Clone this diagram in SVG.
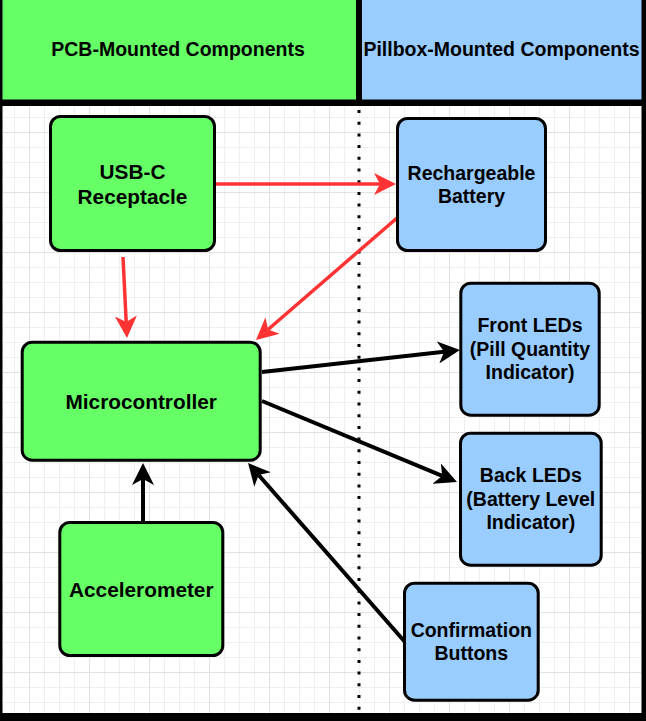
<svg xmlns="http://www.w3.org/2000/svg" width="646" height="721" viewBox="0 0 646 721">
<style>
.g{fill:#66FF66;stroke:#000;stroke-width:3}
.b{fill:#99CCFF;stroke:#000;stroke-width:3}
text{font-family:"Liberation Sans",Arial,sans-serif;font-weight:bold;fill:#000;text-anchor:middle}
.tg{font-size:20.8px}
.tb{font-size:19.5px}
.th{font-size:19.5px}
.red{stroke:#FF3333;stroke-width:3.5;fill:none}
.blk{stroke:#000;stroke-width:4;fill:none}
</style>
<defs>
<pattern id="minor" patternUnits="userSpaceOnUse" x="14" y="12" width="15" height="15">
<rect x="0" y="0" width="1" height="15" fill="#efefef"/>
<rect x="0" y="0" width="15" height="1" fill="#efefef"/>
</pattern>
<pattern id="major" patternUnits="userSpaceOnUse" x="29" y="12" width="60" height="60">
<rect x="0" y="0" width="1" height="60" fill="#e2e2e2"/>
<rect x="0" y="0" width="60" height="1" fill="#e2e2e2"/>
</pattern>
<marker id="ar" viewBox="0 0 22 22" refX="6" refY="11" markerWidth="22" markerHeight="22" markerUnits="userSpaceOnUse" orient="auto">
<path d="M22,11 L0,0 L6,11 L0,22 Z" fill="#FF3333"/>
</marker>
<marker id="ab" viewBox="0 0 22 22" refX="6" refY="11" markerWidth="22" markerHeight="22" markerUnits="userSpaceOnUse" orient="auto">
<path d="M22,11 L0,0 L6,11 L0,22 Z" fill="#000"/>
</marker>
</defs>
<g id="background">
<rect x="0" y="0" width="646" height="721" fill="#fff"/>
<rect x="3" y="106" width="638" height="607" fill="url(#minor)"/>
<rect x="3" y="106" width="638" height="607" fill="url(#major)"/>
<line x1="359" y1="110" x2="359" y2="713" stroke="#000" stroke-width="3" stroke-dasharray="3 8.7"/>
</g>
<g id="header-pcb">
<rect x="0" y="0" width="356" height="100" fill="#66FF66"/>
<text class="th" x="178" y="56">PCB-Mounted Components</text>
</g>
<g id="header-pillbox">
<rect x="362" y="0" width="280" height="100" fill="#99CCFF"/>
<text class="th" x="501.5" y="56">Pillbox-Mounted Components</text>
</g>
<g id="frame" fill="#000">
<rect x="0" y="0" width="2.5" height="721"/>
<rect x="641.5" y="0" width="4.5" height="721"/>
<rect x="0" y="713" width="646" height="8"/>
<rect x="0" y="99.5" width="646" height="6.5"/>
<rect x="356" y="0" width="6" height="100"/>
</g>
<g id="connectors">
<path class="red" d="M216,184 L380,184" marker-end="url(#ar)"/>
<path class="red" d="M123,257 L126.2,322" marker-end="url(#ar)"/>
<path class="red" d="M397,218 L268.1,329.5" marker-end="url(#ar)"/>
<path class="blk" d="M262,372 L444.1,351.8" marker-end="url(#ab)"/>
<path class="blk" d="M262,401 L442.2,475.9" marker-end="url(#ab)"/>
<path class="blk" d="M405,642 L258.6,475" marker-end="url(#ab)"/>
<path class="blk" d="M143,521 L143,479" marker-end="url(#ab)"/>
</g>
<g id="usbc">
<rect class="g" x="50.5" y="116.5" width="164" height="134" rx="10"/>
<text class="tg" x="132.5" y="179">USB-C</text>
<text class="tg" x="132.5" y="204">Receptacle</text>
</g>
<g id="battery">
<rect class="b" x="397.5" y="118.5" width="148" height="132" rx="10"/>
<text class="tb" x="471.5" y="179.5">Rechargeable</text>
<text class="tb" x="471.5" y="203">Battery</text>
</g>
<g id="microcontroller">
<rect class="g" x="22.2" y="342.2" width="238" height="118" rx="10"/>
<text class="tg" x="141.2" y="409">Microcontroller</text>
</g>
<g id="accelerometer">
<rect class="g" x="59.8" y="522.5" width="163" height="133" rx="10"/>
<text class="tg" x="141.3" y="596.5">Accelerometer</text>
</g>
<g id="front-leds">
<rect class="b" x="460.8" y="283.2" width="138.4" height="132" rx="10"/>
<text class="tb" x="530" y="332">Front LEDs</text>
<text class="tb" x="530" y="355.6">(Pill Quantity</text>
<text class="tb" x="530" y="379.2">Indicator)</text>
</g>
<g id="back-leds">
<rect class="b" x="460.5" y="433.2" width="140.7" height="132" rx="10"/>
<text class="tb" x="530.8" y="482">Back LEDs</text>
<text class="tb" x="530.8" y="505.6">(Battery Level</text>
<text class="tb" x="530.8" y="529.2">Indicator)</text>
</g>
<g id="buttons">
<rect class="b" x="404.5" y="583.2" width="133.7" height="117" rx="10"/>
<text class="tb" x="471.3" y="637">Confirmation</text>
<text class="tb" x="471.3" y="660">Buttons</text>
</g>
</svg>
